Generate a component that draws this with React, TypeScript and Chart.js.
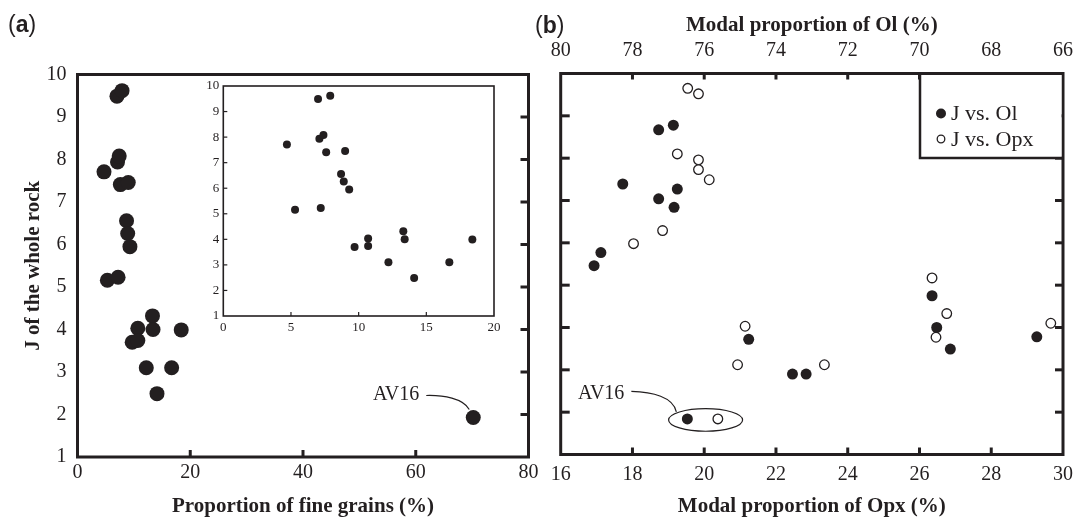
import React, { useEffect, useRef } from 'react';
import { Chart, registerables } from 'chart.js';

Chart.register(...registerables);

const W = 1084;
const H = 519;
const INK = '#231f20';
const SERIF = '"Liberation Serif", "Times New Roman", serif';
const SANS = '"Liberation Sans", Arial, sans-serif';

// ---------- Panel (a): J of the whole rock vs proportion of fine grains ----------
const fineGrains = [4.7, 5.3, 7.0, 7.9, 7.1, 7.4, 7.6, 7.2, 9.0, 8.7, 8.9, 9.3, 9.7, 10.7, 10.7, 12.2, 13.3, 13.4, 14.1, 16.7, 18.4, 70.2];
const jWhole = [7.71, 5.16, 9.49, 9.62, 7.94, 8.08, 7.41, 5.23, 7.46, 6.56, 6.26, 5.95, 3.7, 4.03, 3.74, 3.1, 4.32, 4.0, 2.49, 3.1, 3.99, 1.93];
const av16Fine = { x: 70.2, y: 1.93 };

// ---------- Panel (b): J vs modal proportions ----------
const olModal = [77.27, 76.86, 78.27, 76.75, 77.27, 76.84, 78.88, 79.07, 74.76, 73.54, 73.16, 69.65, 69.52, 69.14, 66.73, 76.47];
const jVsOl = [8.67, 8.78, 7.39, 7.27, 7.04, 6.84, 5.77, 5.46, 3.72, 2.9, 2.9, 4.75, 4.0, 3.49, 3.78, 1.84];
const opxModal = [19.54, 19.84, 19.25, 19.84, 19.84, 20.14, 18.84, 18.03, 26.35, 26.76, 21.14, 26.46, 29.66, 20.93, 23.35, 20.38];
const jVsOpx = [9.65, 9.52, 8.1, 7.96, 7.73, 7.49, 6.29, 5.98, 5.17, 4.33, 4.03, 3.77, 4.1, 3.12, 3.12, 1.84];
const av16Ol = { x: 76.47, y: 1.84 };
const av16Opx = { x: 20.38, y: 1.84 };

const legendLabels = ['J vs. Ol', 'J vs. Opx'];

function seg(ctx: CanvasRenderingContext2D, x1: number, y1: number, x2: number, y2: number, w: number) {
  ctx.beginPath();
  ctx.lineWidth = w;
  ctx.moveTo(x1, y1);
  ctx.lineTo(x2, y2);
  ctx.stroke();
}

function inner(scale: any) {
  return scale.ticks.filter((t: any) => t.value > scale.min && t.value < scale.max).map((t: any) => t.value);
}

function panelLabel(ctx: CanvasRenderingContext2D, letter: string, x: number, y: number) {
  ctx.save();
  ctx.fillStyle = INK;
  ctx.textBaseline = 'middle';
  ctx.textAlign = 'left';
  ctx.font = `23px ${SANS}`;
  ctx.fillText('(', x, y);
  let cx = x + ctx.measureText('(').width;
  ctx.font = `bold 23px ${SANS}`;
  ctx.fillText(letter, cx, y);
  cx += ctx.measureText(letter).width;
  ctx.font = `23px ${SANS}`;
  ctx.fillText(')', cx, y);
  ctx.restore();
}

const plugA = {
  id: 'plugA',
  beforeDatasetsDraw(chart: any) {
    const { ctx, chartArea: a, scales } = chart;
    const x = scales.x;
    const y = scales.y;
    ctx.save();
    ctx.strokeStyle = INK;
    for (const v of inner(x)) {
      const px = x.getPixelForValue(v);
      seg(ctx, px, a.bottom, px, a.bottom - 7, 3);
    }
    for (const v of inner(y)) {
      const py = y.getPixelForValue(v);
      seg(ctx, a.right, py, a.right - 8, py, 3);
    }
    ctx.lineWidth = 3;
    ctx.strokeRect(a.left, a.top, a.right - a.left, a.bottom - a.top);
    ctx.restore();
  },
  afterDatasetsDraw(chart: any) {
    const { ctx, scales } = chart;
    const px = scales.x.getPixelForValue(av16Fine.x);
    const py = scales.y.getPixelForValue(av16Fine.y);
    ctx.save();
    ctx.fillStyle = INK;
    ctx.strokeStyle = INK;
    ctx.font = `20px ${SERIF}`;
    ctx.textAlign = 'right';
    ctx.textBaseline = 'middle';
    ctx.fillText('AV16', px - 54, py - 23);
    ctx.beginPath();
    ctx.lineWidth = 1.2;
    ctx.moveTo(px - 47, py - 22);
    ctx.bezierCurveTo(px - 30, py - 22.5, px - 10, py - 19, px - 4, py - 8);
    ctx.stroke();
    ctx.restore();
    panelLabel(ctx, 'a', 8, 26);
  },
};

const plugInset = {
  id: 'plugInset',
  beforeDatasetsDraw(chart: any) {
    const { ctx, chartArea: a, scales } = chart;
    const x = scales.x;
    const y = scales.y;
    ctx.save();
    ctx.strokeStyle = INK;
    for (const v of inner(x)) {
      const px = x.getPixelForValue(v);
      seg(ctx, px, a.bottom, px, a.bottom - 4, 1.2);
    }
    for (const v of inner(y)) {
      const py = y.getPixelForValue(v);
      seg(ctx, a.left, py, a.left + 4, py, 1.2);
    }
    ctx.lineWidth = 1.6;
    ctx.strokeRect(a.left, a.top, a.right - a.left, a.bottom - a.top);
    ctx.restore();
  },
};

const plugB = {
  id: 'plugB',
  beforeDatasetsDraw(chart: any) {
    const { ctx, chartArea: a, scales } = chart;
    const x = scales.x;
    const xt = scales.xTop;
    const y = scales.y;
    ctx.save();
    ctx.strokeStyle = INK;
    for (const v of inner(x)) {
      const px = x.getPixelForValue(v);
      seg(ctx, px, a.bottom, px, a.bottom - 7, 3);
    }
    for (const v of inner(xt)) {
      const px = xt.getPixelForValue(v);
      seg(ctx, px, a.top, px, a.top + 6, 3);
    }
    for (const v of inner(y)) {
      const py = y.getPixelForValue(v);
      seg(ctx, a.left, py, a.left + 9, py, 3);
      seg(ctx, a.right, py, a.right - 8, py, 3);
    }
    ctx.lineWidth = 3;
    ctx.strokeRect(a.left, a.top, a.right - a.left, a.bottom - a.top);
    ctx.restore();
  },
  afterDatasetsDraw(chart: any) {
    const { ctx, chartArea: a, scales } = chart;
    ctx.save();
    ctx.fillStyle = INK;
    ctx.strokeStyle = INK;
    // legend box
    const lx = a.right - 143;
    const lb = a.top + 84.5;
    ctx.fillStyle = '#fff';
    ctx.fillRect(lx, a.top + 1.5, a.right - lx - 1.5, lb - a.top - 1.5);
    ctx.fillStyle = INK;
    ctx.lineWidth = 2.5;
    ctx.beginPath();
    ctx.moveTo(lx, a.top);
    ctx.lineTo(lx, lb);
    ctx.lineTo(a.right, lb);
    ctx.stroke();
    const mx = lx + 21;
    const r1 = a.top + 40;
    const r2 = a.top + 65.5;
    ctx.beginPath();
    ctx.arc(mx, r1, 5, 0, Math.PI * 2);
    ctx.fill();
    ctx.beginPath();
    ctx.lineWidth = 1.3;
    ctx.arc(mx, r2, 3.8, 0, Math.PI * 2);
    ctx.fillStyle = '#fff';
    ctx.fill();
    ctx.stroke();
    ctx.fillStyle = INK;
    ctx.font = `22px ${SERIF}`;
    ctx.textAlign = 'left';
    ctx.textBaseline = 'middle';
    ctx.fillText(legendLabels[0], mx + 10, r1 + 1);
    ctx.fillText(legendLabels[1], mx + 10, r2 + 1);

    // AV16 annotation
    const fx = scales.xTop.getPixelForValue(av16Ol.x);
    const fy = scales.y.getPixelForValue(av16Ol.y);
    const ox = scales.x.getPixelForValue(av16Opx.x);
    const cx = (fx + ox) / 2 + 3;
    const cy = fy + 1;
    ctx.lineWidth = 1.2;
    ctx.beginPath();
    ctx.ellipse(cx, cy, 37, 11.3, 0, 0, Math.PI * 2);
    ctx.stroke();
    ctx.font = `20px ${SERIF}`;
    ctx.textAlign = 'right';
    ctx.fillText('AV16', fx - 63, fy - 25.5);
    ctx.beginPath();
    ctx.moveTo(fx - 56, fy - 27.5);
    ctx.bezierCurveTo(fx - 35, fy - 27, fx - 14, fy - 22, fx - 11, fy - 7);
    ctx.stroke();
    ctx.restore();
    panelLabel(ctx, 'b', 535, 27);
  },
};

const tickFont = { family: SERIF, size: 20 };
const titleFont = { family: SERIF, size: 21, weight: 'bold' as const };
const noGrid = { display: false, drawTicks: false };
const noBorder = { display: false };

function cfgA(): any {
  return {
    type: 'scatter',
    data: {
      datasets: [
        {
          data: fineGrains.map((v, i) => ({ x: v, y: jWhole[i] })),
          pointRadius: 7.5,
          pointHoverRadius: 7.5,
          backgroundColor: INK,
          borderWidth: 0,
        },
      ],
    },
    options: {
      animation: false,
      responsive: false,
      maintainAspectRatio: false,
      events: [],
      layout: { padding: { left: 0, top: 74.5, right: W - 528.5, bottom: 0 } },
      plugins: { legend: { display: false }, tooltip: { enabled: false } },
      scales: {
        x: {
          type: 'linear',
          min: 0,
          max: 80,
          afterFit: (s: any) => {
            s.height = H - 457;
          },
          grid: noGrid,
          border: noBorder,
          ticks: { stepSize: 20, padding: 4, font: tickFont, color: INK },
          title: { display: true, text: 'Proportion of fine grains (%)', font: titleFont, color: INK, padding: 0 },
        },
        y: {
          type: 'linear',
          min: 1,
          max: 10,
          afterFit: (s: any) => {
            s.width = 77.5;
          },
          grid: noGrid,
          border: noBorder,
          ticks: { stepSize: 1, padding: 11, font: tickFont, color: INK },
          title: { display: true, text: 'J of the whole rock', font: titleFont, color: INK, padding: { top: 21, bottom: 0 } },
        },
      },
    },
    plugins: [plugA],
  };
}

function cfgInset(): any {
  return {
    type: 'scatter',
    data: {
      datasets: [
        {
          data: fineGrains.map((v, i) => ({ x: v, y: jWhole[i] })),
          pointRadius: 4,
          pointHoverRadius: 4,
          backgroundColor: INK,
          borderWidth: 0,
        },
      ],
    },
    options: {
      animation: false,
      responsive: false,
      maintainAspectRatio: false,
      events: [],
      layout: { padding: { left: 0, top: 86, right: W - 494, bottom: 0 } },
      plugins: { legend: { display: false }, tooltip: { enabled: false } },
      scales: {
        x: {
          type: 'linear',
          min: 0,
          max: 20,
          afterFit: (s: any) => {
            s.height = H - 316;
          },
          grid: noGrid,
          border: noBorder,
          ticks: { stepSize: 5, padding: 4, font: { family: SERIF, size: 13 }, color: INK },
        },
        y: {
          type: 'linear',
          min: 1,
          max: 10,
          afterFit: (s: any) => {
            s.width = 223.3;
          },
          grid: noGrid,
          border: noBorder,
          ticks: { stepSize: 1, padding: 4, font: { family: SERIF, size: 13 }, color: INK },
        },
      },
    },
    plugins: [plugInset],
  };
}

function cfgB(): any {
  return {
    type: 'scatter',
    data: {
      datasets: [
        {
          label: legendLabels[0],
          xAxisID: 'xTop',
          yAxisID: 'y',
          data: olModal.map((v, i) => ({ x: v, y: jVsOl[i] })),
          pointRadius: 5.5,
          pointHoverRadius: 5.5,
          backgroundColor: INK,
          borderWidth: 0,
        },
        {
          label: legendLabels[1],
          xAxisID: 'x',
          yAxisID: 'y',
          data: opxModal.map((v, i) => ({ x: v, y: jVsOpx[i] })),
          pointRadius: 4.8,
          pointHoverRadius: 4.8,
          backgroundColor: '#fff',
          borderColor: INK,
          borderWidth: 1.3,
        },
      ],
    },
    options: {
      animation: false,
      responsive: false,
      maintainAspectRatio: false,
      events: [],
      layout: { padding: { left: 560.7, top: 0, right: W - 1063, bottom: 0 } },
      plugins: { legend: { display: false }, tooltip: { enabled: false } },
      scales: {
        x: {
          type: 'linear',
          position: 'bottom',
          min: 16,
          max: 30,
          afterFit: (s: any) => {
            s.height = H - 454.5;
          },
          grid: noGrid,
          border: noBorder,
          ticks: { stepSize: 2, padding: 8.5, font: tickFont, color: INK },
          title: { display: true, text: 'Modal proportion of Opx (%)', font: titleFont, color: INK, padding: 0 },
        },
        xTop: {
          type: 'linear',
          axis: 'x',
          position: 'top',
          reverse: true,
          min: 66,
          max: 80,
          afterFit: (s: any) => {
            s.height = 73.5;
          },
          grid: noGrid,
          border: noBorder,
          ticks: { stepSize: 2, padding: 11, font: tickFont, color: INK },
          title: { display: true, text: 'Modal proportion of Ol (%)', font: titleFont, color: INK, padding: { top: 13.4, bottom: 0 } },
        },
        y: {
          type: 'linear',
          min: 1,
          max: 10,
          display: false,
        },
      },
    },
    plugins: [plugB],
  };
}

export default function App() {
  const aRef = useRef<HTMLCanvasElement>(null);
  const iRef = useRef<HTMLCanvasElement>(null);
  const bRef = useRef<HTMLCanvasElement>(null);

  useEffect(() => {
    const charts = [
      new Chart(aRef.current as HTMLCanvasElement, cfgA()),
      new Chart(iRef.current as HTMLCanvasElement, cfgInset()),
      new Chart(bRef.current as HTMLCanvasElement, cfgB()),
    ];
    return () => charts.forEach((c) => c.destroy());
  }, []);

  const st: React.CSSProperties = { position: 'absolute', left: 0, top: 0, width: W, height: H };
  return (
    <div style={{ position: 'absolute', left: 0, top: 0, width: W, height: H, background: '#fff', overflow: 'hidden' }}>
      <canvas ref={aRef} width={W} height={H} style={st} />
      <canvas ref={iRef} width={W} height={H} style={st} />
      <canvas ref={bRef} width={W} height={H} style={st} />
    </div>
  );
}
